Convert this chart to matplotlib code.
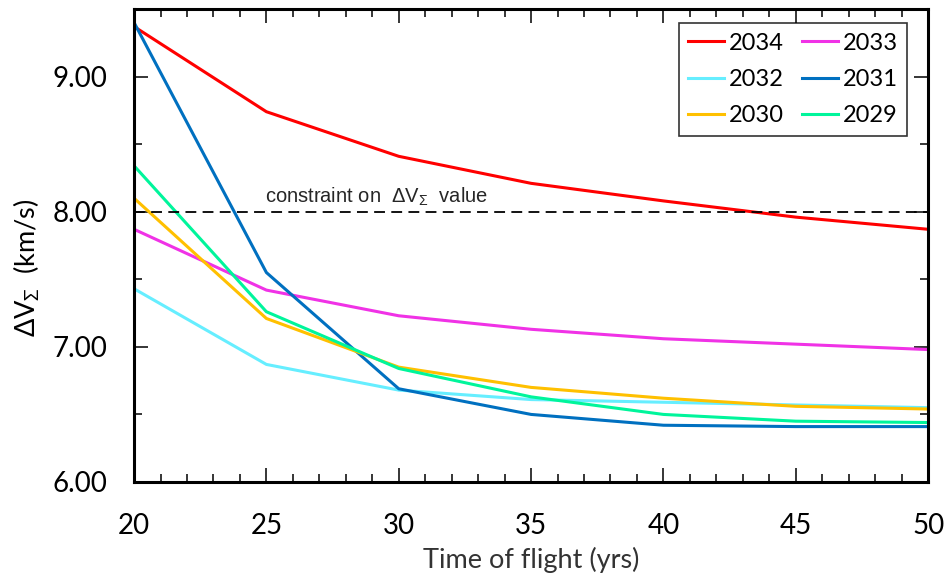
import matplotlib
matplotlib.use("Agg")
import matplotlib.pyplot as plt
from matplotlib.ticker import MultipleLocator, FormatStrFormatter

plt.rcParams['font.family'] = ['Lato', 'DejaVu Sans']
plt.rcParams['mathtext.default'] = 'regular'

tof = [20, 25, 30, 35, 40, 45, 50]

dv_2034 = [9.37, 8.74, 8.41, 8.21, 8.08, 7.96, 7.87]
dv_2033 = [7.87, 7.42, 7.23, 7.13, 7.06, 7.02, 6.98]
dv_2032 = [7.43, 6.87, 6.68, 6.61, 6.59, 6.57, 6.55]
dv_2031 = [9.40, 7.55, 6.69, 6.50, 6.42, 6.41, 6.41]
dv_2030 = [8.10, 7.21, 6.85, 6.70, 6.62, 6.56, 6.54]
dv_2029 = [8.34, 7.26, 6.84, 6.63, 6.50, 6.45, 6.44]

constraint = 8.0

series = [
    ("2034", dv_2034, "#FF0000"),
    ("2033", dv_2033, "#F032E6"),
    ("2032", dv_2032, "#66EEFF"),
    ("2031", dv_2031, "#0070C0"),
    ("2030", dv_2030, "#FFC000"),
    ("2029", dv_2029, "#00F59B"),
]

fig = plt.figure(figsize=(9.48, 5.81), dpi=100)
ax = fig.add_axes([0.1414, 0.1704, 0.8376, 0.8141])

handles = {}
for name, vals, col in series:
    h, = ax.plot(tof, vals, color=col, lw=2.2, solid_joinstyle='miter')
    handles[name] = h

ax.axhline(constraint, color='black', lw=1.3, dashes=(6, 3.5))
ax.text(24.95, constraint + 0.067, r"constraint on  $\Delta V_{\Sigma}$  value",
        fontsize=14.5, family=['Liberation Sans', 'DejaVu Sans'], color='#262626',
        va='baseline', ha='left')

ax.set_xlim(20, 50)
ax.set_ylim(6.0, 9.5)
ax.xaxis.set_major_locator(MultipleLocator(5))
ax.xaxis.set_minor_locator(MultipleLocator(1))
ax.yaxis.set_major_locator(MultipleLocator(1))
ax.yaxis.set_minor_locator(MultipleLocator(0.5))
ax.yaxis.set_major_formatter(FormatStrFormatter('%.2f'))

ax.tick_params(which='both', direction='in', top=True, right=True, width=1.1)
ax.tick_params(which='major', length=10, labelsize=20)
ax.tick_params(which='minor', length=6)
ax.tick_params(axis='x', which='major', pad=22)
ax.tick_params(axis='y', which='major', pad=19)
for sp in ax.spines.values():
    sp.set_linewidth(2.2)

ax.set_xlabel("Time of flight (yrs)", fontsize=19.5, color='#333333', labelpad=6)
ax.set_ylabel(r"$\Delta V_{\Sigma}$  (km/s)", fontsize=19.5)
ax.yaxis.set_label_coords(-0.116, 0.452)

order = ["2034", "2032", "2030", "2033", "2031", "2029"]
leg = ax.legend([handles[k] for k in order], order, ncol=2, loc='upper right',
                bbox_to_anchor=(0.9736, 0.970), borderaxespad=0.0,
                fontsize=17, frameon=True, fancybox=False, edgecolor='black',
                handlelength=1.5, handletextpad=0.2, columnspacing=0.8,
                labelspacing=0.65, borderpad=0.4)
leg.get_frame().set_linewidth(1.2)

fig.savefig("out.png", dpi=100)
